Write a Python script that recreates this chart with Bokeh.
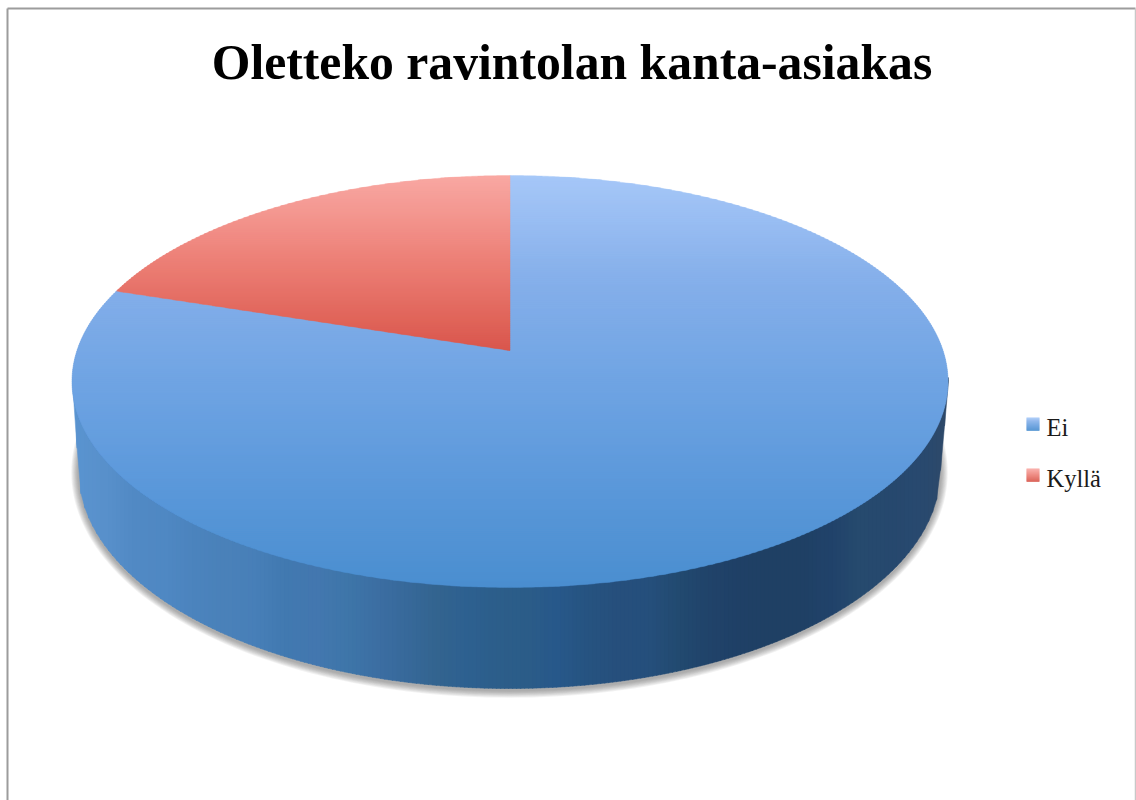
import math
from bokeh.core.properties import value
from bokeh.embed import file_html
from bokeh.models import ColumnDataSource, Range1d
from bokeh.plotting import figure
from bokeh.resources import INLINE

TITLE = "Oletteko ravintolan kanta-asiakas"
labels = ["Ei", "Kyllä"]
values = [80, 20]

# top-surface gradients, light to dark
blue_stops = [(0.0, "#a6c8f8"), (0.25, "#86b0ea"), (0.5, "#70a4e3"), (0.75, "#5c98da"), (1.0, "#4a8ed0")]
red_stops = [(0.0, "#f9a8a3"), (0.5, "#ec7f76"), (1.0, "#d9574c")]

# shades of the rim wall, left to right
wall_facets = [
    "#5a94d0", "#5890cb", "#5189c4", "#4f88c3", "#4b83bd", "#4a81b9", "#477fb8",
    "#4179b0", "#4377af", "#3e76a9", "#3c6ea3", "#37699a", "#33648f", "#2d6090",
    "#2c5e8a", "#2b5c88", "#27588a", "#265380", "#264f7c", "#254f7c", "#224a70",
    "#20436a", "#1f4066", "#1f4064", "#1f4064", "#20426a", "#264a6e", "#26486e",
    "#28496f", "#2f4968",
]
wall_stops = [(i / (len(wall_facets) - 1), c) for i, c in enumerate(wall_facets)]


def hex_rgb(c):
    return tuple(int(c[i:i + 2], 16) for i in (1, 3, 5))


def ramp(stops, t):
    t = min(max(t, 0.0), 1.0)
    for (a, ca), (b, cb) in zip(stops, stops[1:]):
        if t <= b:
            f = (t - a) / (b - a) if b > a else 0
            ra, rb = hex_rgb(ca), hex_rgb(cb)
            return "#%02x%02x%02x" % tuple(round(x + (y - x) * f) for x, y in zip(ra, rb))
    return stops[-1][1]


# perspective mapping of the unit disc on to the page
APEX_X, APEX_Y = 509.5, 350.0
K, A, B = 0.1505, 201.3, 433.0


def project(u, v):
    w = 1 + K * v
    return APEX_X + B * u / w, APEX_Y - A * v / w


def slice_polygon(start, end):
    n = max(8, int((end - start) * 180))
    pts = [project(math.sin(start + (end - start) * i / n), math.cos(start + (end - start) * i / n))
           for i in range(n + 1)]
    return [(APEX_X, APEX_Y)] + pts


def clip_band(poly, y0, y1):
    def clip(points, keep, cross):
        out = []
        for p, q in zip(points, points[1:] + points[:1]):
            if keep(p):
                out.append(p)
            if keep(p) != keep(q):
                f = (cross - p[1]) / (q[1] - p[1])
                out.append((p[0] + (q[0] - p[0]) * f, cross))
        return out
    part = clip(poly, lambda p: p[1] >= y0, y0)
    return clip(part, lambda p: p[1] <= y1, y1) if part else []


def gradient_bands(poly, stops, step=2.0):
    ys = [p[1] for p in poly]
    top, bottom = min(ys), max(ys)
    xs, yy, colors = [], [], []
    y = top
    while y < bottom:
        part = clip_band(poly, y, y + step + 0.6)
        if len(part) >= 3:
            xs.append([p[0] for p in part])
            yy.append([p[1] for p in part])
            colors.append(ramp(stops, (y + step / 2 - top) / (bottom - top)))
        y += step
    return dict(xs=xs, ys=yy, color=colors)


p = figure(width=1136, height=800, output_backend="svg", toolbar_location=None,
           x_range=Range1d(0, 1136), y_range=Range1d(800, 0), min_border=0)
p.axis.visible = False
p.grid.visible = False
p.outline_line_color = None

# frame
p.segment(x0=[7, 7], y0=[8, 8], x1=[7, 1135], y1=[800, 8], line_color="#9c9c9c", line_width=2)
p.segment(x0=[1135], y0=[8], x1=[1135], y1=[800], line_color="#c8c8c8", line_width=1.5)

# lower rim ellipse
LOW_X, LOW_Y, LOW_RX, LOW_RY = 509.0, 470.0, 431.0, 218.0

# soft shadow under the wall
for i in range(8, 0, -1):
    th = [2 * math.pi * j / 240 for j in range(240)]
    p.patch([LOW_X + (LOW_RX + i * 0.9) * math.cos(t) for t in th],
            [LOW_Y + 2 + (LOW_RY + i * 0.9) * math.sin(t) for t in th],
            fill_color="#555555", fill_alpha=0.08, line_color=None)

# wall: vertical strips between the upper and lower rims
CX, CY, RX, RY = 510.0, 381.0, 438.0, 206.0


def upper(v):
    d = min(abs(v - CX) / RX, 1.0)
    return CY + RY * math.sqrt(1 - d * d)


def lower(v):
    if v < LOW_X - LOW_RX:
        return CY + (LOW_Y - CY) * (v - (CX - RX)) / ((LOW_X - LOW_RX) - (CX - RX))
    if v > LOW_X + LOW_RX:
        return CY + (LOW_Y - CY) * ((CX + RX) - v) / ((CX + RX) - (LOW_X + LOW_RX))
    d = (v - LOW_X) / LOW_RX
    return LOW_Y + LOW_RY * math.sqrt(1 - d * d)


strips = dict(xs=[], ys=[], color=[])
step = 4.0
x = CX - RX
while x < CX + RX:
    x1 = min(x + step + 0.5, CX + RX)
    strips["xs"].append([x, x1, x1, x])
    strips["ys"].append([upper(x) - 4, upper(x1) - 4, lower(x1), lower(x)])
    strips["color"].append(ramp(wall_stops, (x - (CX - RX)) / (2 * RX)))
    x += step
p.patches("xs", "ys", source=ColumnDataSource(strips), fill_color="color", line_color="color", line_width=0.5)

# top surface, one slice per value, clockwise from twelve o'clock
total = sum(values)
angle = 0.0
for val, stops in zip(values, (blue_stops, red_stops)):
    sweep = 2 * math.pi * val / total
    bands = gradient_bands(slice_polygon(angle, angle + sweep), stops)
    p.patches("xs", "ys", source=ColumnDataSource(bands), fill_color="color",
              line_color="color", line_width=0.4)
    angle += sweep

p.text(x=[571.5], y=[62], text=[TITLE], text_font_size="49.7px", text_font_style="bold",
       text_font=value("Liberation Serif"), text_color="#000000",
       text_align="center", text_baseline="middle")

# legend
for lab, stops, ty in zip(labels, (blue_stops, red_stops), (423.5, 474.5)):
    n = 13
    for i in range(n):
        p.quad(left=1026, right=1039, top=ty - 6.5 + i, bottom=ty - 5.2 + i,
               fill_color=ramp(stops, i / (n - 1)), line_color=None)
    p.text(x=[1046], y=[ty + 3], text=[lab], text_font_size="24.5px",
           text_font=value("Liberation Serif"), text_color="#1a1a1a",
           text_align="left", text_baseline="middle")

open("out.html", "w").write(file_html(p, INLINE))
